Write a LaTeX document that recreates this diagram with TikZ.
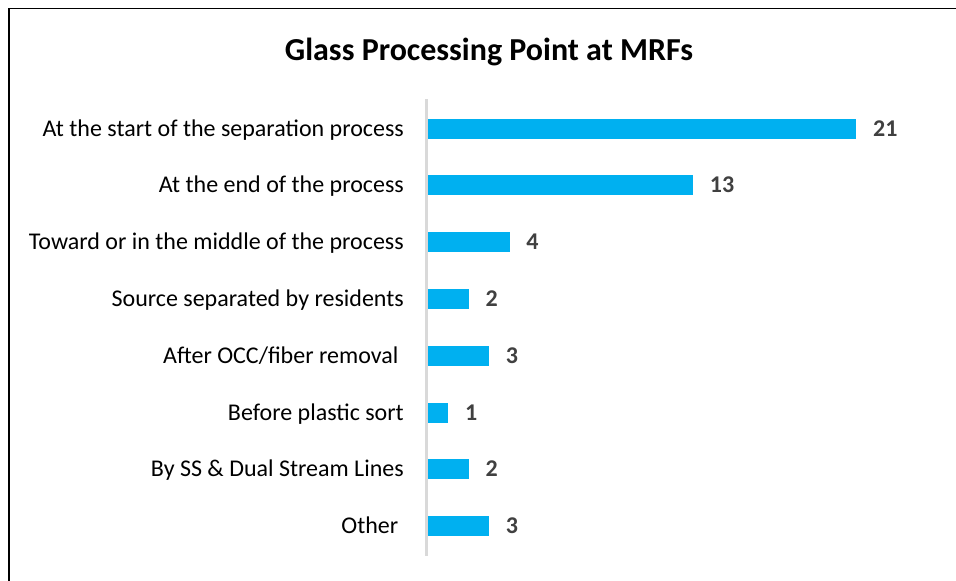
\documentclass[tikz,border=0pt]{standalone}
\usepackage{fontspec}
\setmainfont{Carlito}
\definecolor{barblue}{HTML}{00B0F0}
\definecolor{axisgray}{HTML}{D9D9D9}
\definecolor{labtext}{HTML}{000000}
\definecolor{valtext}{HTML}{404040}
\begin{document}
\begin{tikzpicture}[x=1pt,y=-1pt,
  cat/.style={anchor=base east, inner sep=0pt, text=labtext, font=\fontsize{24}{28}\selectfont},
  val/.style={anchor=base west, inner sep=0pt, text=valtext, font=\bfseries\fontsize{24}{28}\selectfont},
  bar/.style={fill=barblue, draw=none}]
\useasboundingbox (0,0) rectangle (956,581);
\fill[white] (0,0) rectangle (956,581);
\draw[black, line width=1.5pt] (9,581) -- (9,8.5) -- (956,8.5);
\node[anchor=base, inner sep=0pt, font=\bfseries\fontsize{32}{36}\selectfont] (title) at (489,60) {Glass Processing Point at MRFs};
\draw[axisgray, line width=2.5pt] (426.5,99) -- (426.5,556);
\foreach \y/\v/\t/\n in {
  128.5/21/{At the start of the separation process}/a,
  185.2/13/{At the end of the process}/b,
  242/4/{Toward or in the middle of the process}/c,
  298.7/2/{Source separated by residents}/d,
  355.7/3/{After OCC/fiber removal\hspace*{0.23em}}/e,
  412.7/1/{Before plastic sort}/f,
  469.4/2/{By SS \& Dual Stream Lines}/g,
  525.7/3/{Other\hspace*{0.23em}}/h} {
  \fill[bar] (428,\y-10) rectangle ({428+20.4*\v},\y+10);
  \node[cat] (lab\n) at (404,\y+7.5) {\t};
  \node[val] (val\n) at ({428+20.4*\v+16.5},\y+7.5) {\v};
}
\end{tikzpicture}
\end{document}
